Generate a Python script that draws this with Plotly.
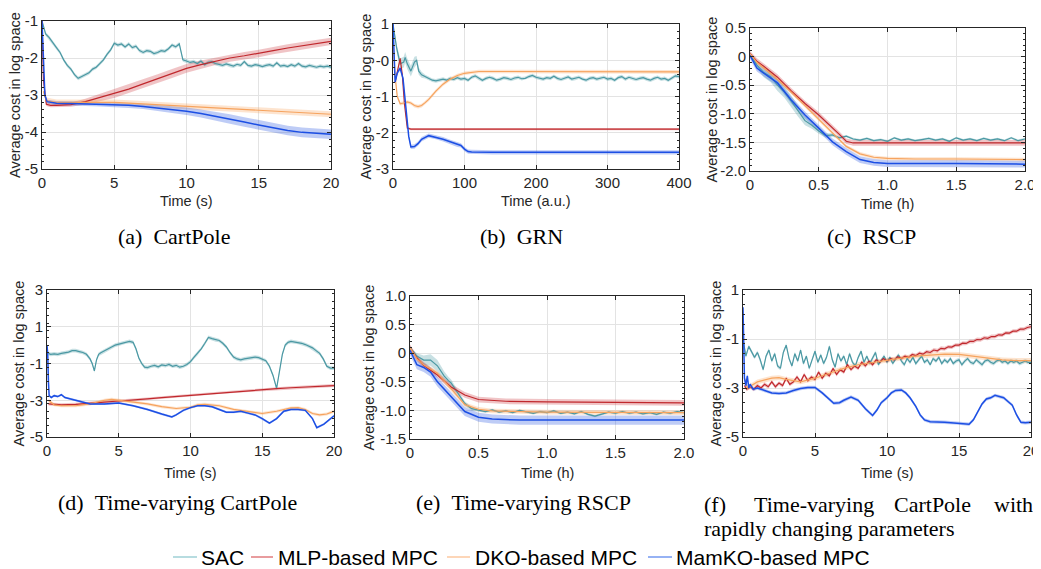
import plotly.graph_objects as go

W, H = 1041, 569
OFF = 8  # the page body offsets the figure by this many pixels
SERIES = ["SAC", "MLP-based MPC", "DKO-based MPC", "MamKO-based MPC"]
LINE_COL = ["#4a98a3", "#c0282d", "#f6a35e", "#1c4fe4"]
BAND_COL = ["rgba(74,152,163,0.30)", "rgba(205,60,65,0.30)", "rgba(248,165,95,0.30)", "rgba(40,85,225,0.30)"]
LEG_COL = ["#9fd0d6", "#e07b7e", "#fcc9a0", "#7399f0"]

# ---------------- (a) CartPole ----------------
a_sac_x = [i * 0.25 for i in range(81)]
a_sac_y = [-1.0, -1.35, -1.45, -1.6, -1.72, -1.85, -2.05, -2.2, -2.3, -2.45, -2.55, -2.5, -2.45, -2.4, -2.3, -2.25,
           -2.15, -2.05, -1.9, -1.78, -1.6, -1.65, -1.62, -1.7, -1.62, -1.72, -1.68, -1.8, -1.85, -1.8, -1.82, -1.88,
           -1.85, -1.8, -1.82, -1.75, -1.65, -1.7, -1.62, -2.05, -2.08, -2.12, -2.1, -2.15, -2.08, -2.18, -2.12, -2.1,
           -2.15, -2.18, -2.2, -2.16, -2.2, -2.22, -2.17, -2.2, -2.1, -2.2, -2.22, -2.18, -2.2, -2.23, -2.2, -2.18,
           -2.22, -2.13, -2.22, -2.2, -2.23, -2.18, -2.22, -2.15, -2.22, -2.24, -2.2, -2.23, -2.25, -2.22, -2.24, -2.22, -2.25]
a_sac_w = 0.05
a_mlp_x = [0, 0.1, 0.3, 0.6, 1, 2, 3, 4, 5, 6, 7, 8, 9, 10, 11, 12, 13, 14, 15, 16, 17, 18, 19, 20]
a_mlp_y = [-1, -2.6, -3.25, -3.28, -3.28, -3.26, -3.18, -3.07, -2.96, -2.84, -2.7, -2.56, -2.42, -2.28, -2.18, -2.09,
           -2.0, -1.94, -1.88, -1.8, -1.73, -1.67, -1.61, -1.55]
a_mlp_w = [0, 0.05, 0.05, 0.05, 0.05, 0.06, 0.08, 0.1, 0.12, 0.12, 0.12, 0.12, 0.12, 0.12, 0.11, 0.1, 0.1, 0.1, 0.1,
           0.1, 0.1, 0.1, 0.1, 0.1]
a_dko_x = [0.1, 0.3, 1, 2, 3, 4, 5, 6, 7, 8, 9, 10, 11, 12, 13, 14, 15, 16, 17, 18, 19, 20]
a_dko_y = [-2.9, -3.15, -3.2, -3.2, -3.19, -3.18, -3.2, -3.22, -3.24, -3.27, -3.29, -3.31, -3.33, -3.35, -3.37, -3.39,
           -3.41, -3.43, -3.45, -3.47, -3.5, -3.52]
a_dko_w = 0.08
a_mam_x = [0, 0.1, 0.2, 0.35, 1, 2, 3, 4, 5, 6, 7, 8, 9, 10, 11, 12, 13, 14, 15, 16, 17, 18, 19, 20]
a_mam_y = [-1.0, -2.3, -3.0, -3.18, -3.22, -3.23, -3.24, -3.25, -3.26, -3.28, -3.31, -3.35, -3.39, -3.44, -3.5, -3.57,
           -3.65, -3.73, -3.81, -3.89, -3.96, -4.01, -4.04, -4.06]
a_mam_w = [0, 0.02, 0.03, 0.05, 0.06, 0.06, 0.06, 0.06, 0.06, 0.07, 0.07, 0.08, 0.09, 0.1, 0.11, 0.12, 0.13, 0.13,
           0.13, 0.13, 0.13, 0.13, 0.13, 0.13]

# ---------------- (b) GRN ----------------
b_sac_x = [0, 5, 10, 15, 17, 20, 25, 30, 33, 36, 40] + [45 + 5 * i for i in range(72)]
b_sac_y = [1.0, 0.35, -0.1, -0.05, 0.08, -0.1, -0.3, -0.05, 0.0, -0.3, -0.4,
           -0.45, -0.5, -0.55, -0.57, -0.55, -0.52, -0.55, -0.5, -0.53, -0.48, -0.52, -0.5, -0.55, -0.47, -0.43,
           -0.5, -0.55, -0.5, -0.47, -0.5, -0.55, -0.52, -0.48, -0.5, -0.53, -0.49, -0.47, -0.51, -0.5, -0.45,
           -0.42, -0.47, -0.5, -0.52, -0.48, -0.5, -0.44, -0.5, -0.53, -0.5, -0.46, -0.52, -0.5, -0.47, -0.52,
           -0.55, -0.5, -0.48, -0.52, -0.5, -0.47, -0.52, -0.5, -0.55, -0.48, -0.45, -0.52, -0.47, -0.5, -0.53,
           -0.5, -0.48, -0.52, -0.55, -0.5, -0.47, -0.52, -0.5, -0.55, -0.48, -0.43, -0.45]
b_sac_w = [0, 0.1, 0.15, 0.15, 0.15, 0.15, 0.15, 0.15, 0.12, 0.1, 0.08] + [0.05] * 72
b_mlp_x = [3, 6, 10, 13, 16, 20, 25, 40, 100, 400]
b_mlp_y = [-0.6, -0.3, 0.05, -0.4, -1.2, -1.87, -1.9, -1.9, -1.9, -1.9]
b_mlp_w = 0.03
b_dko_x = [0, 3, 6, 10, 15, 20, 25, 30, 35, 40, 45, 50, 60, 70, 80, 90, 100, 110, 120, 140, 200, 300, 400]
b_dko_y = [0.5, -0.45, -1.0, -1.2, -1.18, -1.15, -1.18, -1.25, -1.28, -1.25, -1.17, -1.08, -0.85, -0.66, -0.52, -0.42,
           -0.36, -0.33, -0.31, -0.31, -0.31, -0.31, -0.32]
b_dko_w = 0.05
b_mam_x = [0, 3, 6, 10, 14, 18, 22, 25, 30, 35, 40, 50, 60, 70, 80, 90, 95, 100, 105, 110, 120, 140, 400]
b_mam_y = [1.0, -0.6, -0.35, -0.22, -0.5, -1.3, -2.1, -2.39, -2.38, -2.3, -2.18, -2.08, -2.12, -2.18, -2.25, -2.33,
           -2.35, -2.45, -2.52, -2.53, -2.54, -2.54, -2.54]
b_mam_w = 0.06

# ---------------- (c) RSCP ----------------
c_sac_x = [i * 0.05 for i in range(41)]
c_sac_y = [0.05, -0.15, -0.28, -0.35, -0.5, -0.62, -0.78, -0.95, -1.12, -1.2, -1.3, -1.38, -1.37, -1.42, -1.39, -1.44,
           -1.46, -1.43, -1.47, -1.45, -1.48, -1.42, -1.46, -1.44, -1.47, -1.45, -1.43, -1.46, -1.44, -1.48, -1.42,
           -1.46, -1.44, -1.47, -1.43, -1.46, -1.44, -1.47, -1.42, -1.47, -1.44]
c_sac_w = [0, 0.05, 0.08, 0.1, 0.1, 0.1, 0.1, 0.1, 0.08, 0.06, 0.05, 0.04, 0.03] + [0.02] * 28
c_mlp_x = [0, 0.05, 0.1, 0.2, 0.3, 0.4, 0.5, 0.6, 0.65, 0.7, 0.75, 0.8, 1.0, 1.5, 2.0]
c_mlp_y = [0.05, -0.08, -0.17, -0.36, -0.6, -0.82, -1.02, -1.24, -1.36, -1.48, -1.51, -1.51, -1.51, -1.51, -1.51]
c_mlp_w = 0.05
c_dko_x = [0, 0.05, 0.1, 0.2, 0.3, 0.4, 0.5, 0.6, 0.7, 0.8, 0.9, 1.0, 1.2, 1.5, 2.0]
c_dko_y = [0.05, -0.1, -0.2, -0.4, -0.62, -0.86, -1.1, -1.34, -1.57, -1.7, -1.76, -1.78, -1.79, -1.79, -1.8]
c_dko_w = 0.03
c_mam_x = [0, 0.05, 0.1, 0.2, 0.3, 0.4, 0.5, 0.6, 0.7, 0.8, 0.9, 1.0, 1.5, 2.0]
c_mam_y = [0.02, -0.2, -0.29, -0.46, -0.76, -1.02, -1.25, -1.49, -1.66, -1.8, -1.85, -1.87, -1.87, -1.88]
c_mam_w = 0.06

# ---------------- (d) Time-varying CartPole ----------------
d_sac_x = [0.1, 0.25, 0.5, 0.75, 1.0, 1.25, 1.5, 1.75, 2.0, 2.25, 2.5, 2.75, 3.0, 3.15, 3.3, 3.45, 3.6, 3.75, 4.0,
           4.25, 4.5, 4.75, 5.0, 5.25, 5.5, 5.75, 6.0, 6.2, 6.4, 6.6, 6.8, 7.0, 7.25, 7.5, 7.75, 8.0, 8.25, 8.5, 8.75,
           9.0, 9.25, 9.5, 9.75, 10.0, 10.25, 10.5, 10.75, 11.0, 11.25, 11.5, 11.75, 12.0, 12.25, 12.5, 12.75, 13.0,
           13.25, 13.5, 13.75, 14.0, 14.25, 14.5, 14.75, 15.0, 15.25, 15.5, 15.75, 16.0, 16.2, 16.4, 16.6, 16.8,
           17.0, 17.25, 17.5, 17.75, 18.0, 18.25, 18.5, 18.75, 19.0, 19.25, 19.5, 19.75, 20.0]
d_sac_y = [-0.45, -0.5, -0.48, -0.5, -0.45, -0.42, -0.38, -0.3, -0.3, -0.35, -0.4, -0.5, -0.75, -1.0, -1.4, -0.8, -0.5,
           -0.42, -0.3, -0.2, -0.1, 0.0, 0.05, 0.1, 0.18, 0.2, 0.15, -0.2, -0.7, -1.0, -1.2, -1.22, -1.15, -1.1, -1.18,
           -1.08, -1.12, -1.05, -1.15, -1.1, -1.2, -1.15, -1.05, -0.9, -0.65, -0.45, -0.2, 0.1, 0.42, 0.35, 0.28,
           0.25, 0.1, -0.1, -0.4, -0.65, -0.75, -0.8, -0.75, -0.72, -0.7, -0.65, -0.68, -0.75, -0.85, -1.15, -1.65,
           -2.35, -1.4, -0.5, 0.0, 0.15, 0.2, 0.18, 0.15, 0.1, 0.03, -0.05, -0.15, -0.3, -0.45, -0.75, -1.15, -1.25,
           -1.25]
d_sac_w = 0.1
d_mlp_x = [0.1, 1, 2, 3, 4, 5, 6, 7, 8, 9, 10, 11, 12, 13, 14, 15, 16, 17, 18, 19, 20]
d_mlp_y = [-3.2, -3.25, -3.22, -3.18, -3.1, -3.04, -3.0, -2.93, -2.86, -2.8, -2.73, -2.65, -2.58, -2.52, -2.46, -2.42,
           -2.37, -2.32, -2.28, -2.24, -2.2]
d_mlp_w = 0.08
d_dko_x = [0.1, 0.5, 1, 2, 3, 4, 4.5, 5, 6, 7, 8, 9, 10, 10.5, 11, 12, 13, 14, 15, 16, 17, 17.5, 18, 18.5, 19, 19.5, 20]
d_dko_y = [-3.0, -3.25, -3.3, -3.3, -3.2, -3.0, -2.95, -3.0, -3.1, -3.2, -3.35, -3.45, -3.38, -3.25, -3.22, -3.3, -3.5,
           -3.6, -3.72, -3.6, -3.42, -3.4, -3.5, -3.72, -3.8, -3.75, -3.6]
d_dko_w = 0.08
d_mam_x = [0, 0.05, 0.1, 0.15, 0.3, 0.5, 0.75, 1.0, 1.25, 1.5, 2, 2.5, 3, 4, 5, 6, 7, 8, 8.7, 9, 9.5, 10, 10.5, 11,
           11.5, 12, 12.5, 13, 13.5, 14, 14.5, 15, 15.5, 16, 16.5, 17, 17.5, 18, 18.5, 18.8, 19.3, 20]
d_mam_y = [0.0, -0.5, -2.0, -2.75, -2.85, -2.75, -2.8, -2.7, -2.85, -2.9, -3.0, -3.1, -3.2, -3.2, -3.15, -3.3, -3.5,
           -3.75, -3.91, -3.8, -3.55, -3.4, -3.3, -3.3, -3.35, -3.5, -3.65, -3.65, -3.6, -3.7, -3.8, -4.0, -4.24,
           -4.0, -3.6, -3.5, -3.5, -3.55, -4.0, -4.49, -4.3, -3.85]
d_mam_w = 0.06

# ---------------- (e) Time-varying RSCP ----------------
e_sac_x = [0, 0.05, 0.1, 0.15, 0.2, 0.25, 0.28, 0.3, 0.35, 0.4, 0.45] + [0.5 + 0.05 * i for i in range(31)]
e_sac_y = [0.1, -0.05, -0.12, -0.12, -0.22, -0.4, -0.48, -0.52, -0.7, -0.88, -0.97,
           -1.0, -1.02, -0.99, -1.03, -1.01, -1.04, -1.0, -1.03, -1.05, -1.02, -1.04, -1.01, -1.05, -1.03, -1.06,
           -1.02, -1.07, -1.1, -1.06, -1.03, -1.05, -1.02, -1.05, -1.03, -1.06, -1.04, -1.07, -1.03, -1.05, -1.02,
           -1.04]
e_sac_w = [0, 0.05, 0.08, 0.1, 0.1, 0.08, 0.07, 0.06, 0.05, 0.04, 0.03] + [0.02] * 31
e_mlp_x = [0, 0.05, 0.1, 0.2, 0.3, 0.4, 0.5, 0.7, 1.0, 1.5, 2.0]
e_mlp_y = [0.1, -0.08, -0.21, -0.38, -0.59, -0.73, -0.81, -0.84, -0.85, -0.86, -0.87]
e_mlp_w = 0.05
e_dko_x = [0, 0.05, 0.1, 0.2, 0.3, 0.4, 0.5, 0.6, 1.0, 2.0]
e_dko_y = [0.1, -0.1, -0.2, -0.35, -0.62, -0.9, -0.98, -1.01, -1.03, -1.04]
e_dko_w = 0.04
e_mam_x = [0, 0.05, 0.1, 0.15, 0.2, 0.3, 0.4, 0.5, 0.6, 0.8, 1.0, 2.0]
e_mam_y = [0.05, -0.2, -0.25, -0.33, -0.5, -0.76, -1.02, -1.12, -1.15, -1.17, -1.17, -1.17]
e_mam_w = 0.08

# ---------------- (f) Time-varying CartPole, rapid ----------------
f_sac_x = [round(0.2 * i, 1) for i in range(101)]
f_sac_y = [-1.0, -1.7, -1.3, -1.5, -1.75, -1.55, -1.85, -2.25, -1.7, -1.45, -1.9, -1.6, -2.1, -2.2, -1.55, -1.25,
           -1.8, -2.1, -1.6, -1.9, -1.45, -2.0, -1.7, -2.2, -1.8, -1.5, -1.95, -1.65, -2.0, -1.75, -1.3, -1.85,
           -2.15, -1.6, -1.9, -1.7, -2.05, -1.6, -1.95, -2.1, -1.75, -1.5, -1.95, -1.7, -2.0, -1.8, -1.55, -2.05,
           -1.85, -1.7, -1.95, -1.75, -2.0, -1.8, -1.65, -1.9, -2.05, -1.8, -1.95, -1.75, -2.0, -1.85, -1.7, -1.95,
           -1.85, -2.05, -1.8, -1.9, -1.75, -2.0, -1.85, -1.95, -1.8, -2.0, -1.9, -1.85, -2.05, -1.9, -1.8, -1.95,
           -2.0, -1.85, -1.95, -2.05, -1.9, -1.85, -1.95, -2.0, -1.9, -1.85, -1.95, -1.9, -2.0, -1.9, -1.95, -1.9,
           -2.0, -1.95, -1.9, -1.95, -1.95]
f_sac_w = 0.08
f_mlp_x = [0.1] + [0.25 * i for i in range(1, 81)]
f_mlp_y = [-2.9, -3.05, -2.95, -3.05, -2.9, -3.0, -2.85, -2.95, -2.75, -2.95, -2.8, -2.9, -2.6, -2.85, -2.75, -2.55,
           -2.75, -2.45, -2.7, -2.55, -2.65, -2.35, -2.6, -2.4, -2.5, -2.2, -2.45, -2.25, -2.35, -2.05, -2.25, -2.1,
           -2.2, -1.95, -2.1, -1.9, -2.05, -1.85, -1.95, -1.8, -1.9, -1.8, -1.85, -1.72, -1.8, -1.7, -1.75, -1.63,
           -1.68, -1.58, -1.62, -1.52, -1.55, -1.45, -1.48, -1.38, -1.4, -1.32, -1.33, -1.25, -1.25, -1.17, -1.18,
           -1.1, -1.1, -1.02, -1.03, -0.95, -0.97, -0.9, -0.9, -0.83, -0.84, -0.75, -0.76, -0.68, -0.68, -0.6, -0.6,
           -0.53, -0.5]
f_mlp_w = 0.08
f_dko_x = [0.1, 0.3, 1, 2, 2.5, 3, 4, 5, 6, 7, 8, 9, 10, 11, 12, 13, 14, 15, 16, 17, 18, 19, 20]
f_dko_y = [-2.6, -3.0, -2.75, -2.6, -2.58, -2.65, -2.75, -2.6, -2.4, -2.2, -2.05, -1.95, -1.85, -1.78, -1.7, -1.65,
           -1.62, -1.63, -1.7, -1.78, -1.85, -1.88, -1.88]
f_dko_w = 0.1
f_mam_x = [0, 0.05, 0.1, 0.2, 0.3, 0.4, 0.5, 0.7, 1.0, 1.5, 2, 2.5, 3, 3.5, 4, 4.5, 5, 5.5, 6, 6.3, 6.7, 7, 7.5, 8,
           8.5, 9, 9.3, 9.6, 10, 10.3, 10.6, 11, 11.3, 11.6, 12, 12.3, 12.6, 13, 14, 15, 15.7, 16, 16.3, 16.6, 16.9,
           17.2, 17.5, 17.8, 18.1, 18.4, 18.7, 19, 19.3, 19.6, 20]
f_mam_y = [0.3, -1.5, -2.6, -2.9, -2.5, -3.0, -2.85, -3.05, -3.0, -3.1, -3.2, -3.22, -3.2, -3.1, -3.02, -2.98, -2.98,
           -3.2, -3.45, -3.62, -3.6, -3.5, -3.37, -3.5, -3.85, -4.12, -3.9, -3.6, -3.4, -3.2, -3.1, -3.08, -3.2,
           -3.4, -3.75, -4.1, -4.3, -4.38, -4.4, -4.43, -4.48, -4.3, -4.0, -3.65, -3.45, -3.4, -3.3, -3.35, -3.4,
           -3.55, -3.7, -4.1, -4.4, -4.42, -4.4]
f_mam_w = 0.07

# ---------------- panel settings ----------------
PANELS = [
    dict(data=[(a_sac_x, a_sac_y, a_sac_w), (a_mlp_x, a_mlp_y, a_mlp_w), (a_dko_x, a_dko_y, a_dko_w), (a_mam_x, a_mam_y, a_mam_w)],
         px=(42, 331), py=(21, 169), xr=[0, 20], yr=[-5, -1],
         xt=[0, 5, 10, 15, 20], xtt=["0", "5", "10", "15", "20"],
         yt=[-5, -4, -3, -2, -1], ytt=["-5", "-4", "-3", "-2", "-1"],
         xtitle="Time (s)", ytx=15, xty=201),
    dict(data=[(b_sac_x, b_sac_y, b_sac_w), (b_mlp_x, b_mlp_y, b_mlp_w), (b_dko_x, b_dko_y, b_dko_w), (b_mam_x, b_mam_y, b_mam_w)],
         px=(393, 679), py=(24, 169), xr=[0, 400], yr=[-3, 1],
         xt=[0, 100, 200, 300, 400], xtt=["0", "100", "200", "300", "400"],
         yt=[-3, -2, -1, 0, 1], ytt=["-3", "-2", "-1", "-0", "1"],
         xtitle="Time (a.u.)", ytx=365, xty=201),
    dict(data=[(c_sac_x, c_sac_y, c_sac_w), (c_mlp_x, c_mlp_y, c_mlp_w), (c_dko_x, c_dko_y, c_dko_w), (c_mam_x, c_mam_y, c_mam_w)],
         px=(750, 1025), py=(28, 171), xr=[0, 2], yr=[-2, 0.5],
         xt=[0, 0.5, 1, 1.5, 2], xtt=["0", "0.5", "1.0", "1.5", "2.0"],
         yt=[-2, -1.5, -1, -0.5, 0, 0.5], ytt=["-2.0", "-1.5", "-1.0", "-0.5", "0", "0.5"],
         xtitle="Time (h)", ytx=711, xty=204),
    dict(data=[(d_sac_x, d_sac_y, d_sac_w), (d_mlp_x, d_mlp_y, d_mlp_w), (d_dko_x, d_dko_y, d_dko_w), (d_mam_x, d_mam_y, d_mam_w)],
         px=(47, 334), py=(290, 437), xr=[0, 20], yr=[-5, 3],
         xt=[0, 5, 10, 15, 20], xtt=["0", "5", "10", "15", "20"],
         yt=[-5, -3, -1, 1, 3], ytt=["-5", "-3", "-1", "1", "3"],
         xtitle="Time (s)", ytx=18, xty=473),
    dict(data=[(e_sac_x, e_sac_y, e_sac_w), (e_mlp_x, e_mlp_y, e_mlp_w), (e_dko_x, e_dko_y, e_dko_w), (e_mam_x, e_mam_y, e_mam_w)],
         px=(410, 684), py=(296, 439), xr=[0, 2], yr=[-1.5, 1],
         xt=[0, 0.5, 1, 1.5, 2], xtt=["0", "0.5", "1.0", "1.5", "2.0"],
         yt=[-1.5, -1, -0.5, 0, 0.5, 1], ytt=["-1.5", "-1.0", "-0.5", "0", "0.5", "1.0"],
         xtitle="Time (h)", ytx=368, xty=473),
    dict(data=[(f_sac_x, f_sac_y, f_sac_w), (f_mlp_x, f_mlp_y, f_mlp_w), (f_dko_x, f_dko_y, f_dko_w), (f_mam_x, f_mam_y, f_mam_w)],
         px=(743, 1031), py=(290, 437), xr=[0, 20], yr=[-5, 1],
         xt=[0, 5, 10, 15, 20], xtt=["0", "5", "10", "15", "20"],
         yt=[-5, -3, -1, 1], ytt=["-5", "-3", "-1", "1"],
         xtitle="Time (s)", ytx=715, xty=473),
]

CAPTIONS = [("(a)  CartPole", 174, 236), ("(b)  GRN", 521, 236), ("(c)  RSCP", 871, 236),
            ("(d)  Time-varying CartPole", 177, 502), ("(e)  Time-varying RSCP", 523, 502)]
CAPTION_F1 = [("(f)", 702), ("Time-varying", 752), ("CartPole", 892), ("with", 992)]
CAPTION_F2 = "rapidly changing parameters"

AX = "#262626"
SANS = "Liberation Sans, Arial, sans-serif"
TICKFONT = dict(family=SANS, size=15, color=AX)

fig = go.Figure()
layout = dict(width=W, height=H, margin=dict(l=0, r=0, t=0, b=0, pad=0, autoexpand=False),
              paper_bgcolor="white", plot_bgcolor="white", showlegend=False, template="none",
              annotations=[], shapes=[])


def fx(p):
    return (p - OFF) / W


def fy(p):
    return 1 - (p - OFF) / H


for i, P in enumerate(PANELS):
    n = "" if i == 0 else str(i + 1)
    xa, ya = "x" + n, "y" + n
    for k, (xs, ys, w) in enumerate(P["data"]):
        ws = w if isinstance(w, list) else [w] * len(xs)
        up = [y + d for y, d in zip(ys, ws)]
        lo = [y - d for y, d in zip(ys, ws)]
        fig.add_trace(go.Scatter(x=list(xs) + list(xs)[::-1], y=up + lo[::-1], fill="toself",
                                 fillcolor=BAND_COL[k], line=dict(width=0), mode="lines",
                                 hoverinfo="skip", xaxis=xa, yaxis=ya))
    for k, (xs, ys, w) in enumerate(P["data"]):
        fig.add_trace(go.Scatter(x=xs, y=ys, mode="lines", name=SERIES[k],
                                 line=dict(color=LINE_COL[k], width=1.5 if k == 3 else 1.2),
                                 xaxis=xa, yaxis=ya))
    common = dict(showline=True, linecolor=AX, linewidth=1, mirror="ticks", ticks="inside", ticklen=4,
                  tickcolor=AX, tickwidth=1, showgrid=True, gridcolor="#e3e3e3", gridwidth=1,
                  zeroline=False, tickfont=TICKFONT, automargin=False)
    layout["xaxis" + n] = dict(domain=[fx(P["px"][0]), fx(P["px"][1])], range=P["xr"], anchor=ya,
                               tickvals=P["xt"], ticktext=P["xtt"], **common)
    ymin_step = (P["yt"][1] - P["yt"][0]) / 5
    layout["yaxis" + n] = dict(domain=[fy(P["py"][1]), fy(P["py"][0])], range=P["yr"], anchor=xa,
                               tickvals=P["yt"], ticktext=P["ytt"],
                               minor=dict(ticks="inside", ticklen=2, tickcolor=AX, dtick=ymin_step, showgrid=False),
                               **common)
    layout["annotations"].append(dict(text=P["xtitle"], xref="paper", yref="paper",
                                      x=fx((P["px"][0] + P["px"][1]) / 2), y=fy(P["xty"]),
                                      xanchor="center", yanchor="middle", showarrow=False,
                                      font=dict(family=SANS, size=14.5, color=AX)))
    layout["annotations"].append(dict(text="Average cost in log space", xref="paper", yref="paper",
                                      x=fx(P["ytx"]), y=fy((P["py"][0] + P["py"][1]) / 2), textangle=-90,
                                      xanchor="center", yanchor="middle", showarrow=False,
                                      font=dict(family=SANS, size=14.5, color=AX)))

SERIF = dict(family="Liberation Serif, Times New Roman, serif", size=22, color="black")
for txt, cx, cy in CAPTIONS:
    layout["annotations"].append(dict(text=txt.replace("  ", "&nbsp;&nbsp;"), xref="paper", yref="paper",
                                      x=fx(cx), y=fy(cy), xanchor="center", yanchor="middle",
                                      showarrow=False, font=SERIF))
for txt, lx in CAPTION_F1:
    layout["annotations"].append(dict(text=txt, xref="paper", yref="paper", x=fx(lx), y=fy(504),
                                      xanchor="left", yanchor="middle", showarrow=False, font=SERIF))
layout["annotations"].append(dict(text=CAPTION_F2, xref="paper", yref="paper", x=fx(702), y=fy(528),
                                  xanchor="left", yanchor="middle", showarrow=False, font=SERIF))

LEG_POS = [(173, 197, 199), (251, 273, 276), (447, 470, 473), (648, 672, 674)]
for k, (x0, x1, tx) in enumerate(LEG_POS):
    layout["shapes"].append(dict(type="line", xref="paper", yref="paper", x0=fx(x0), x1=fx(x1),
                                 y0=fy(557), y1=fy(557), line=dict(color=LEG_COL[k], width=1.5)))
    layout["annotations"].append(dict(text=SERIES[k], xref="paper", yref="paper", x=fx(tx), y=fy(557),
                                      xanchor="left", yanchor="middle", showarrow=False,
                                      font=dict(family=SANS, size=21, color="black")))

fig.update_layout(**layout)
fig.write_html("out.html")
